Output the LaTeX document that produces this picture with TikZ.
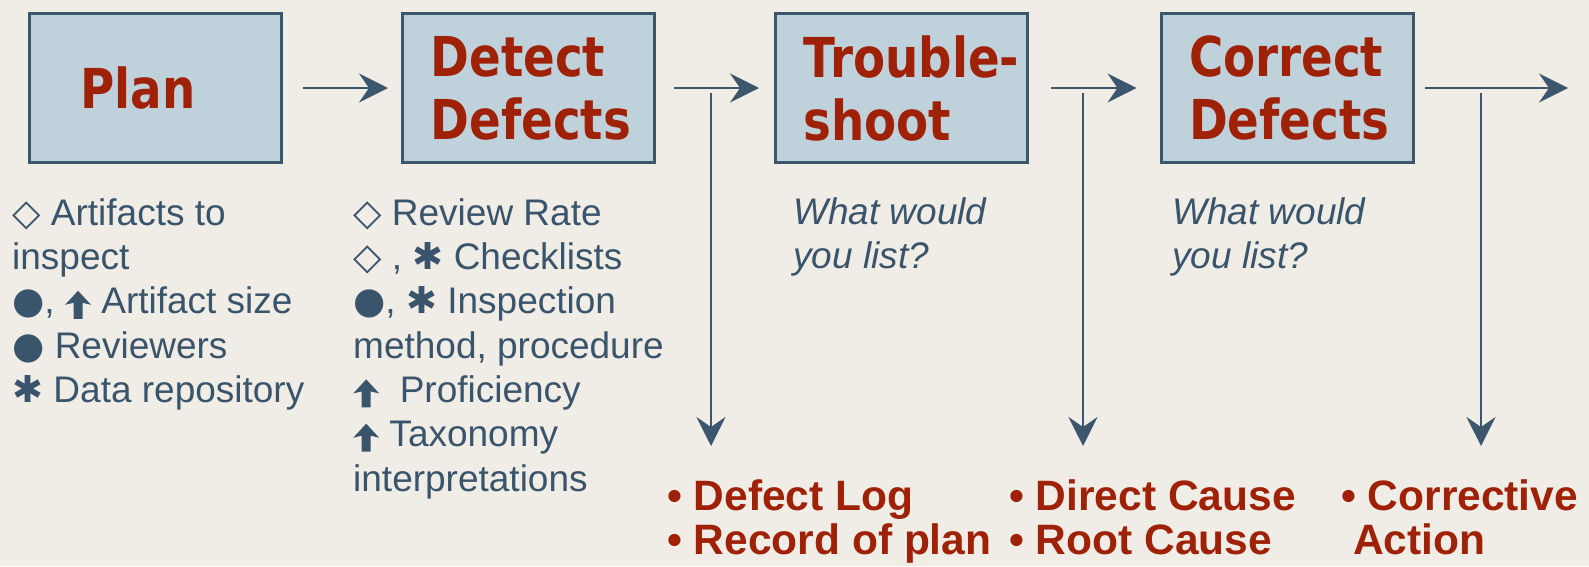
\documentclass[tikz,border=0pt]{standalone}
\usepackage{fontspec}
\setmainfont{Liberation Sans}
\newfontfamily\boxfont{DejaVu Sans}[FakeStretch=0.85]
\newfontfamily\symfont{DejaVu Sans}
\usetikzlibrary{arrows.meta}
\definecolor{bgc}{RGB}{240,237,230}
\definecolor{boxfill}{RGB}{191,209,219}
\definecolor{boxline}{RGB}{60,86,110}
\definecolor{txt}{RGB}{58,84,107}
\definecolor{dred}{RGB}{158,33,8}
\newcommand\sdia{{\symfont ◇}}
\newcommand\sdot{{\symfont ●}}
\newcommand\sast{{\symfont ✱}}
\newcommand\sarr{\tikz[baseline=0pt,x=1pt,y=1pt]\fill[txt] (0,9) -- (13,23) -- (26,9) -- (17.5,11) -- (17.5,-5) -- (8.5,-5) -- (8.5,11) -- cycle;}
\newcommand\fl{\rule{0pt}{30pt}}
\begin{document}
\begin{tikzpicture}[x=1pt,y=-1pt,
  stepbox/.style={draw=boxline, line width=3pt, fill=boxfill,
    minimum width=252pt, minimum height=149pt, text width=196pt,
    inner xsep=28pt, inner ysep=0pt, align=left, text=dred,
    font={\boxfont\bfseries\fontsize{55pt}{63pt}\selectfont}},
  listtext/.style={text=txt, font={\fontsize{37pt}{44.3pt}\selectfont},
    align=left, inner sep=0pt, anchor=north west},
  asktext/.style={listtext, font={\itshape\fontsize{37pt}{44.3pt}\selectfont}},
  outtext/.style={text=dred, font={\bfseries\fontsize{42.5pt}{44pt}\selectfont},
    align=left, inner sep=0pt, anchor=north west},
  arr/.style={draw=boxline, line width=2pt,
    -{Stealth[length=29pt,width=29pt,inset=10pt]}}]
\fill[bgc] (0,0) rectangle (1589,566);
\useasboundingbox (0,0) rectangle (1589,566);

\node[stepbox] (plan) at (155.5,88) {\hspace*{23pt}Plan};
\node[stepbox] (detect) at (528.5,88) {Detect\\Defects};
\node[stepbox] (trouble) at (901.5,88) {\rlap{Trouble-}\\shoot};
\node[stepbox] (correct) at (1287,88) {Correct\\Defects};

\node[listtext] (planlist) at (12,195) {\fl\sdia\ Artifacts to\\inspect\\\sdot, \sarr\ Artifact size\\\sdot\ Reviewers\\\sast\ Data repository};
\node[listtext] (detlist) at (353,195) {\fl\sdia\ Review Rate\\\sdia\ , \sast\ Checklists\\\sdot, \sast\ Inspection\\method, procedure\\\sarr\ \ Proficiency\\\sarr\ Taxonomy\\interpretations};
\node[asktext] (trask) at (793,194) {\fl What would\\you list?};
\node[asktext] (coask) at (1172,194) {\fl What would\\you list?};

\node[outtext] (out1) at (667,479) {\fl• Defect Log\\• Record of plan};
\node[outtext] (out2) at (1009,479) {\fl• Direct Cause\\• Root Cause};
\node[outtext] (out3) at (1341,479) {\fl• Corrective\\\hspace*{12pt}Action};

\coordinate (end4) at (1568,88);
\coordinate (v1s) at (711,93);
\coordinate (v1e) at (711,446);
\coordinate (v2s) at (1083,93);
\coordinate (v2e) at (1083,446);
\coordinate (v3s) at (1481,93);
\coordinate (v3e) at (1481,446);

\draw[arr] ([xshift=20pt]plan.east) -- ([xshift=-13pt]detect.west);
\draw[arr] ([xshift=18pt]detect.east) -- ([xshift=-15pt]trouble.west);
\draw[arr] ([xshift=22pt]trouble.east) -- ([xshift=-23pt]correct.west);
\draw[arr] ([xshift=10pt]correct.east) -- (end4);
\draw[arr] (v1s) -- (v1e);
\draw[arr] (v2s) -- (v2e);
\draw[arr] (v3s) -- (v3e);
\end{tikzpicture}
\end{document}
